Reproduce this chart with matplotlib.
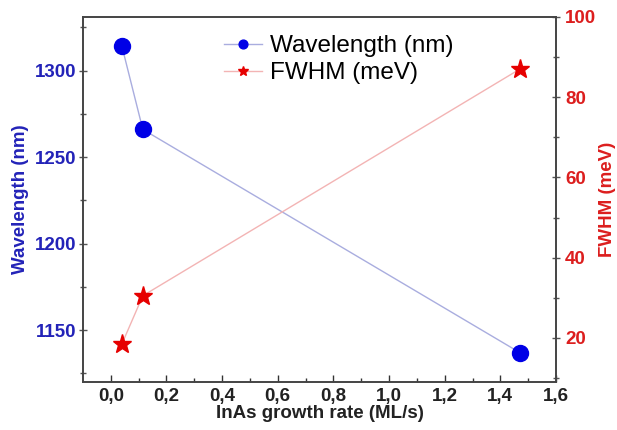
import matplotlib
matplotlib.use("Agg")
import matplotlib.pyplot as plt

plt.rcParams['font.family'] = ['Liberation Sans', 'DejaVu Sans']

# InAs growth rate (ML/s) and the measured PL peak properties
growth_rate = [0.04, 0.115, 1.47]
wavelength_nm = [1314, 1266, 1137]
fwhm_mev = [18.5, 30.5, 87]

x_ticks = [0.0, 0.2, 0.4, 0.6, 0.8, 1.0, 1.2, 1.4, 1.6]
x_labels = ['0,0', '0,2', '0,4', '0,6', '0,8', '1,0', '1,2', '1,4', '1,6']
wl_ticks = [1150, 1200, 1250, 1300]
fwhm_ticks = [20, 40, 60, 80, 100]

blue = '#0000e6'
red = '#e60000'
blue_txt = '#2323b8'
red_txt = '#dc1e1e'

fig = plt.figure(figsize=(6.17, 4.30), dpi=100)
ax = fig.add_axes([0.1345, 0.1116, 0.7666, 0.849])
ax2 = ax.twinx()

l1, = ax.plot(growth_rate, wavelength_nm, '-o', color='#a9addf', lw=1.0,
              mfc=blue, mec=blue, ms=11.5, label='Wavelength (nm)')
l2, = ax2.plot(growth_rate, fwhm_mev, '-*', color='#f3b4b4', lw=1.0,
               mfc=red, mec=red, ms=14, label='FWHM (meV)')

ax.set_xlim(-0.1, 1.6)
ax.set_ylim(1120, 1331)
ax2.set_ylim(9, 100)

ax.set_xticks(x_ticks)
ax.set_xticklabels(x_labels)
ax.set_xticks([0.1, 0.3, 0.5, 0.7, 0.9, 1.1, 1.3, 1.5], minor=True)
ax.set_yticks(wl_ticks)
ax.set_yticks([1125, 1175, 1225, 1275, 1325], minor=True)
ax2.set_yticks(fwhm_ticks)
ax2.set_yticks([10, 30, 50, 70, 90], minor=True)

ax.tick_params(axis='x', which='both', direction='in', length=5, width=1,
               labelsize=13.5, pad=4, colors='#333333', labelcolor='#222222')
ax.tick_params(axis='x', which='minor', length=3)
ax.tick_params(axis='y', which='both', direction='inout', length=6, width=1,
               labelsize=13.5, pad=2, colors='#555555', labelcolor=blue_txt)
ax.tick_params(axis='y', which='minor', length=4)
ax2.tick_params(axis='y', which='both', direction='inout', length=6, width=1,
                labelsize=13.5, colors='#555555', labelcolor=red_txt)
ax2.tick_params(axis='y', which='minor', length=4)

for lab in ax.get_xticklabels() + ax.get_yticklabels() + ax2.get_yticklabels():
    lab.set_fontweight('bold')

for a in (ax, ax2):
    for s in a.spines.values():
        s.set_color('#444444')
        s.set_linewidth(1.2)

ax.set_xlabel('InAs growth rate (ML/s)', fontsize=13.5, fontweight='bold',
              color='#222222', labelpad=0)
ax.set_ylabel('Wavelength (nm)', fontsize=13.5, fontweight='bold',
              color=blue_txt, labelpad=4)
ax2.set_ylabel('FWHM (meV)', fontsize=13.5, fontweight='bold',
               color=red_txt, labelpad=2)

leg = ax.legend(handles=[l1, l2], loc='upper center', bbox_to_anchor=(0.54, 1.01),
                frameon=False, fontsize=17.5, markerscale=0.55,
                handlelength=1.6, handletextpad=0.3, labelspacing=0.2)

fig.savefig('out.png', dpi=100)
